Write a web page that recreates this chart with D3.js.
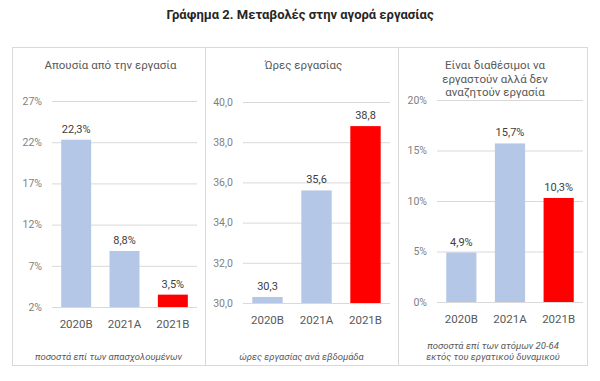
<!DOCTYPE html>
<html><head><meta charset="utf-8">
<script src="https://cdn.jsdelivr.net/npm/d3@7"></script>
<style>
html,body{margin:0;padding:0;background:#fff;}
svg{display:block;font-family:Roboto,"Noto Sans",sans-serif;}
</style></head>
<body>
<svg id="c" width="600" height="381"></svg>
<script>
const categories = ["2020B","2021A","2021B"];
const absenceValues = [22.3, 8.8, 3.5];
const hoursValues = [30.3, 35.6, 38.8];
const availableValues = [4.9, 15.7, 10.3];
const absenceTicks = [2,7,12,17,22,27];
const hoursTicks = [30,32,34,36,38,40];
const availableTicks = [0,5,10,15,20];
const barColors = ["#b4c7e7","#b4c7e7","#ff0000"];

const mainTitle = "Γράφημα 2. Μεταβολές στην αγορά εργασίας";
const panelTitles = [["Απουσία από την εργασία"],["Ώρες εργασίας"],["Είναι διαθέσιμοι να","εργαστούν αλλά δεν","αναζητούν εργασία"]];
const panelNotes = [["ποσοστά επί των  απασχολουμένων"],["ώρες εργασίας ανά εβδομάδα"],["ποσοστά επί των ατόμων 20-64","εκτός του εργατικού δυναμικού"]];

const panels = [
  {values:absenceValues, ticks:absenceTicks, domain:[2,27], yr:[307,101], xr:[52,197], left:12, right:205,
   tickFmt:v=>v+"%", valFmt:v=>d3.format(".1f")(v).replace(".",",")+"%"},
  {values:hoursValues, ticks:hoursTicks, domain:[30,40], yr:[303,102], xr:[243,390], left:205, right:398,
   tickFmt:v=>d3.format(".1f")(v).replace(".",","), valFmt:v=>d3.format(".1f")(v).replace(".",",")},
  {values:availableValues, ticks:availableTicks, domain:[0,20], yr:[302,100], xr:[437,583], left:398, right:588,
   tickFmt:v=>v+"%", valFmt:v=>d3.format(".1f")(v).replace(".",",")+"%"}
];

const svg = d3.select("#c");

svg.append("text").attr("x",300).attr("y",19).attr("text-anchor","middle")
  .attr("font-weight","bold").attr("font-size",13).attr("fill","#262626").text(mainTitle);

// frame
svg.append("rect").attr("x",12.5).attr("y",47.5).attr("width",575).attr("height",318)
  .attr("fill","none").attr("stroke","#d9d9d9");
[205.5,398.5].forEach(x=>svg.append("line").attr("x1",x).attr("x2",x).attr("y1",47.5).attr("y2",365.5).attr("stroke","#d9d9d9"));

panels.forEach((p,i)=>{
  const g = svg.append("g");
  const y = d3.scaleLinear().domain(p.domain).range(p.yr);
  const x = d3.scaleBand().domain(categories).range(p.xr).paddingInner(0.38).paddingOuter(0.19);
  const cx = (p.left+p.right)/2;

  panelTitles[i].forEach((t,j)=>{
    g.append("text").attr("x",cx+2).attr("y",69+j*13.5).attr("text-anchor","middle")
      .attr("font-size",11.5).attr("fill","#595959").text(t);
  });

  const ax = d3.axisLeft(y).tickValues(p.ticks).tickFormat(p.tickFmt)
     .tickSize(-(p.xr[1]-p.xr[0])).tickPadding(10);
  const axg = g.append("g").attr("transform",`translate(${p.xr[0]},0)`).call(ax);
  axg.select(".domain").remove();
  axg.selectAll(".tick line").attr("stroke","#d9d9d9");
  axg.selectAll(".tick text").attr("font-size",10.5).attr("fill","#7f7f7f").attr("font-family","Roboto,sans-serif");

  g.selectAll("rect.bar").data(p.values).join("rect").attr("class","bar")
    .attr("x",(d,k)=>x(categories[k])).attr("width",x.bandwidth())
    .attr("y",d=>y(d)).attr("height",d=>y(p.domain[0])-y(d))
    .attr("fill",(d,k)=>barColors[k]);

  g.selectAll("text.val").data(p.values).join("text").attr("class","val")
    .attr("x",(d,k)=>x(categories[k])+x.bandwidth()/2).attr("y",d=>y(d)-7)
    .attr("text-anchor","middle").attr("font-size",11).attr("fill","#404040").text(p.valFmt);

  const xa = d3.axisBottom(x).tickSize(0).tickPadding(13);
  const xg = g.append("g").attr("transform",`translate(0,${p.yr[0]})`).call(xa);
  xg.select(".domain").remove();
  xg.selectAll(".tick text").attr("font-size",11.5).attr("fill","#595959").attr("font-family","Roboto,sans-serif");

  const notes = panelNotes[i];
  notes.forEach((t,j)=>{
    const yy = notes.length===1 ? 360 : 349+j*11;
    g.append("text").attr("x",cx).attr("y",yy).attr("text-anchor","middle")
      .attr("font-size",9.5).attr("font-style","italic").attr("fill","#595959").text(t);
  });
});
</script>
</body></html>
